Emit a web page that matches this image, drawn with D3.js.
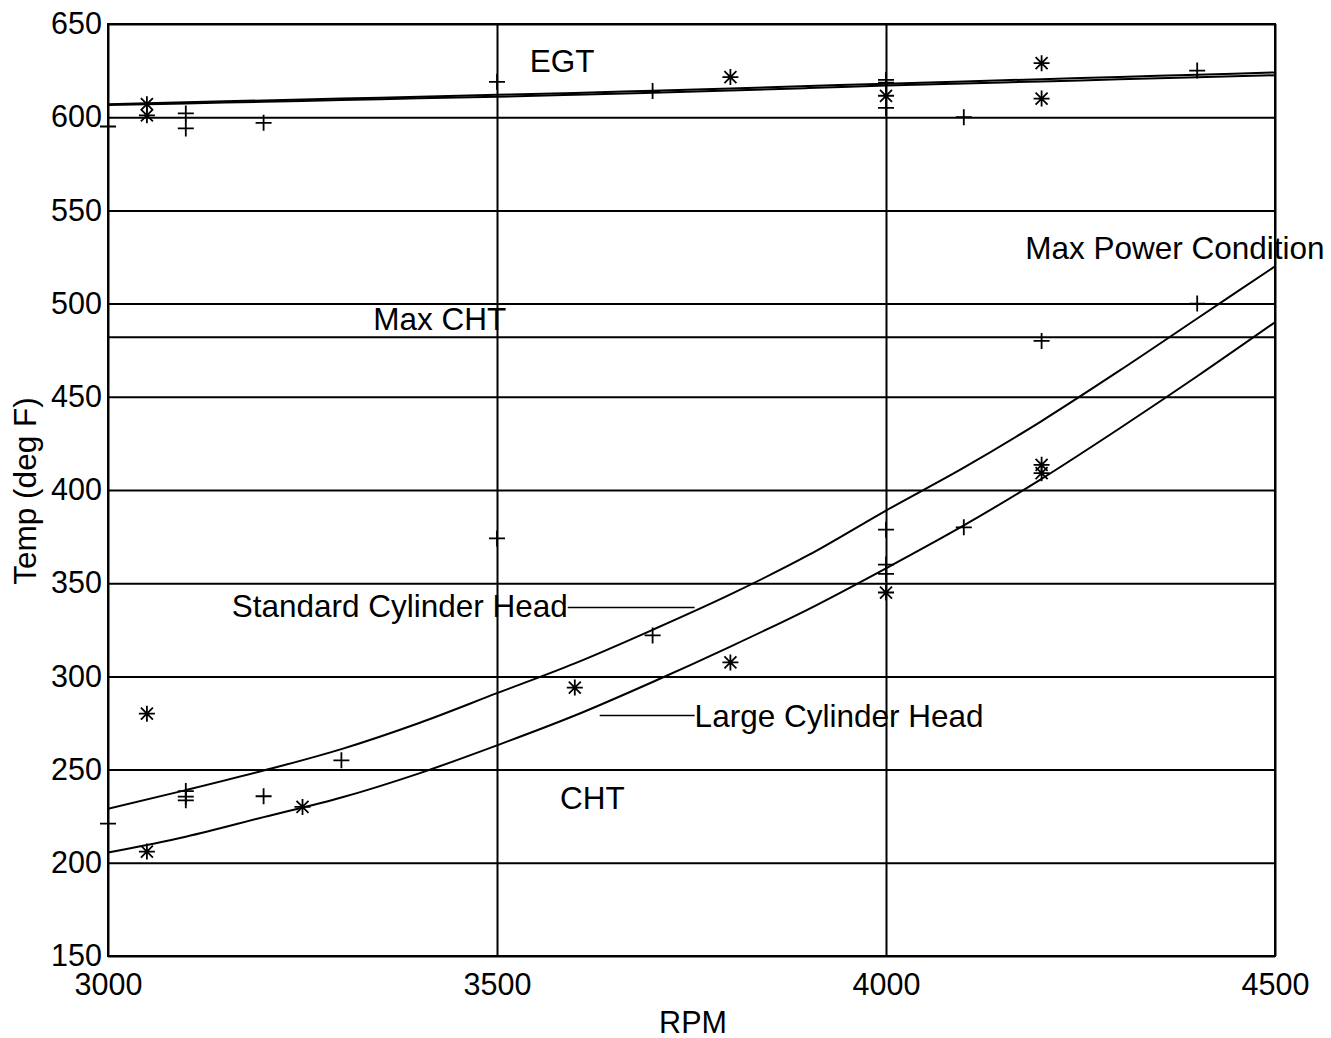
<!DOCTYPE html>
<html>
<head>
  <title>Temp vs RPM</title>
  <script src="https://d3js.org/d3.v7.min.js"></script>
  <style>
  body { margin: 0; background: #fff; }
  svg text { font-family: "Liberation Sans", Arial, sans-serif; fill: #000; }
  .grid line, .frame, .fit, .leader { stroke: #000; stroke-width: 2; fill: none; }
  .mark { stroke: #000; stroke-width: 1.8; fill: none; }
  </style>
</head>
<body>
<div id="chart"></div>
<script>
// fitted curves, read at every 100 rpm
var rpm = [3000, 3100, 3200, 3300, 3400, 3500, 3600, 3700, 3800, 3900, 4000, 4100, 4200, 4300, 4400, 4500];
var chtStandard = [229, 239, 249.5, 261, 275, 291, 307, 325, 344, 365, 389, 412, 437, 464, 492, 520];
var chtLarge = [205.5, 214, 224.5, 235, 248, 263, 279, 297, 316, 336, 358, 381, 406, 433, 461, 490];
var egtStandard = [607, 608, 609, 610, 611, 612, 613, 614.2, 615.4, 616.7, 618, 619.2, 620.4, 621.6, 622.8, 624];
var egtLarge = [606.5, 607.4, 608.3, 609.2, 610.1, 611, 612, 613.1, 614.3, 615.6, 617, 618.1, 619.2, 620.3, 621.4, 622.5];

// measured points: "+" standard head, "*" large head
var plusRpm = [3000, 3100, 3100, 3200, 3500, 3700, 4000, 4000, 4000, 4100, 4400,
               3000, 3100, 3100, 3100, 3200, 3300, 3500, 3700, 4000, 4000, 4000, 4100, 4200, 4400];
var plusTemp = [595, 602, 594, 597, 619, 614, 620, 618.5, 605, 600, 625,
                221, 238.5, 235.5, 233.5, 235.7, 255, 374, 322, 378.7, 360, 355, 380, 480, 500];
var starRpm = [3050, 3050, 3800, 4000, 4200, 4200,
               3050, 3050, 3250, 3600, 3800, 4000, 4200, 4200];
var starTemp = [607, 601, 621.5, 611.5, 629, 610,
                280, 206, 230, 294, 307.5, 345, 413.5, 409];

var xTicks = [3000, 3500, 4000, 4500];
var yTicks = [150, 200, 250, 300, 350, 400, 450, 500, 550, 600, 650];
var maxCHT = 482;

var W = 1331, H = 1038;
var mLeft = 108, mRight = 1275, mTop = 24, mBottom = 956;

var svg = d3.select("#chart").append("svg")
  .attr("width", W).attr("height", H);

var x = d3.scaleLinear().domain([3000, 4500]).range([mLeft, mRight]);
var y = d3.scaleLinear().domain([150, 650]).range([mBottom, mTop]);

svg.append("defs").append("clipPath").attr("id", "plot")
  .append("rect").attr("x", mLeft).attr("y", mTop)
  .attr("width", mRight - mLeft).attr("height", mBottom - mTop);

// horizontal grid + y labels
var yAxis = svg.append("g").attr("class", "grid")
  .attr("transform", "translate(" + mLeft + ",0)")
  .call(d3.axisLeft(y).tickValues(yTicks).tickFormat(d3.format("d"))
    .tickSize(-(mRight - mLeft)).tickPadding(6));
yAxis.select(".domain").remove();
yAxis.selectAll("text").style("font-size", "30.5px");

// vertical grid + x labels
var xAxis = svg.append("g").attr("class", "grid")
  .attr("transform", "translate(0," + mBottom + ")")
  .call(d3.axisBottom(x).tickValues(xTicks).tickFormat(d3.format("d"))
    .tickSize(-(mBottom - mTop)).tickPadding(17));
xAxis.select(".domain").remove();
xAxis.selectAll("text").style("font-size", "30.5px");

// max CHT line
svg.append("line").attr("class", "leader")
  .attr("x1", mLeft).attr("x2", mRight)
  .attr("y1", y(maxCHT)).attr("y2", y(maxCHT));

svg.append("rect").attr("class", "frame")
  .attr("x", mLeft).attr("y", mTop)
  .attr("width", mRight - mLeft).attr("height", mBottom - mTop);

// fitted curves
var plot = svg.append("g").attr("clip-path", "url(#plot)");
var line = d3.line()
  .x(function(d) { return x(d[0]); })
  .y(function(d) { return y(d[1]); })
  .curve(d3.curveMonotoneX);

[chtStandard, chtLarge, egtStandard, egtLarge].forEach(function(s) {
  plot.append("path").attr("class", "fit")
    .attr("d", line(rpm.map(function(r, i) { return [r, s[i]]; })));
});

// markers
var plusPath = "M-8,0H8M0,-8V8";
var starPath = "M-8,0H8M0,-8V8M-6,-6L6,6M-6,6L6,-6";

svg.selectAll(".plus").data(plusRpm).enter().append("path")
  .attr("class", "mark")
  .attr("d", plusPath)
  .attr("transform", function(d, i) { return "translate(" + x(d) + "," + y(plusTemp[i]) + ")"; });

svg.selectAll(".star").data(starRpm).enter().append("path")
  .attr("class", "mark")
  .attr("d", starPath)
  .attr("transform", function(d, i) { return "translate(" + x(d) + "," + y(starTemp[i]) + ")"; });

// annotations
var notes = [
  { t: "EGT", r: 3542, v: 624 },
  { t: "Max CHT", r: 3341, v: 486 },
  { t: "Max Power Condition", r: 4179, v: 524 },
  { t: "Standard Cylinder Head", r: 3159, v: 332 },
  { t: "Large Cylinder Head", r: 3754, v: 273 },
  { t: "CHT", r: 3581, v: 229 }
];
svg.selectAll(".note").data(notes).enter().append("text")
  .attr("x", function(d) { return x(d.r); })
  .attr("y", function(d) { return y(d.v); })
  .style("font-size", "31.5px")
  .text(function(d) { return d.t; });

// leader lines
svg.append("line").attr("class", "leader").style("stroke-width", 1.6)
  .attr("x1", x(3591)).attr("x2", x(3754)).attr("y1", y(337)).attr("y2", y(337));
svg.append("line").attr("class", "leader").style("stroke-width", 1.6)
  .attr("x1", x(3632)).attr("x2", x(3754)).attr("y1", y(279)).attr("y2", y(279));

// axis titles
svg.append("text").attr("x", 693).attr("y", 1033)
  .attr("text-anchor", "middle").style("font-size", "30.5px").text("RPM");
svg.append("text")
  .attr("transform", "translate(36,491) rotate(-90)")
  .attr("text-anchor", "middle").style("font-size", "31.5px").text("Temp (deg F)");
</script>
</body>
</html>
